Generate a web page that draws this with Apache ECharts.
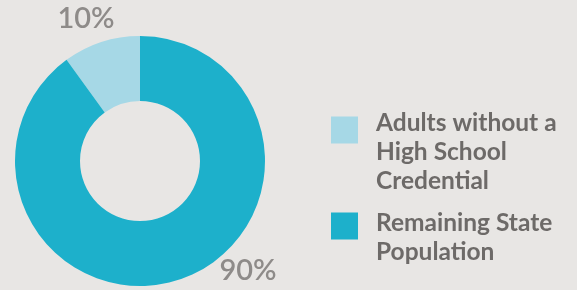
<!DOCTYPE html>
<html>
<head>
<meta charset="utf-8">
<script src="https://cdn.jsdelivr.net/npm/echarts@6/dist/echarts.min.js"></script>
<style>
  html, body { margin: 0; padding: 0; background: #e8e6e4; }
  #chart { width: 577px; height: 290px; }
</style>
</head>
<body>
<div id="chart"></div>
<script>
// data
var categories = ['Adults without a\nHigh School\nCredential', 'Remaining State\nPopulation'];
var shares = [10, 90];
var colors = ['#a6d8e6', '#1db0cb'];

var chartDom = document.getElementById('chart');
var myChart = echarts.init(chartDom);
var option;

var pieData = categories.map(function (name, i) {
  return { name: name, value: shares[i], itemStyle: { color: colors[i] } };
});

option = {
  backgroundColor: '#e8e6e4',
  animation: false,
  legend: {
    orient: 'vertical',
    left: 331,
    top: 86,
    padding: 0,
    itemWidth: 27,
    itemHeight: 27,
    itemGap: 3,
    icon: 'rect',
    selectedMode: false,
    formatter: function (name) {
      // blank first line pushes the text block down so it starts at the icon top
      var idx = categories.indexOf(name);
      var lines = name.split('\n').map(function (l) { return '{t|' + l + '}'; });
      return '{g' + idx + '| }\n' + lines.join('\n');
    },
    textStyle: {
      padding: [0, 0, 0, 13],
      rich: {
        t: {
          color: '#6d6a68',
          fontFamily: 'Lato',
          fontWeight: 'bold',
          fontSize: 24.5,
          lineHeight: 29
        },
        g0: { fontSize: 1, lineHeight: 44 },
        g1: { fontSize: 1, lineHeight: 23 }
      }
    },
    data: categories
  },
  series: [{
    type: 'pie',
    center: [140, 161],
    radius: [60, 125],
    startAngle: 90,
    clockwise: false,
    silent: true,
    label: {
      show: true,
      position: 'outside',
      overflow: 'none',
      formatter: '{d}%',
      color: '#8e8b89',
      fontFamily: 'Lato',
      fontWeight: 600,
      fontSize: 29
    },
    labelLine: { show: false },
    labelLayout: function (params) {
      // place the two percentages like in the source
      if (params.dataIndex === 0) {
        return { x: 86, y: 19, align: 'center', verticalAlign: 'middle' };
      }
      return { x: 248, y: 271, align: 'center', verticalAlign: 'middle' };
    },
    data: pieData
  }]
};

option && myChart.setOption(option);
</script>
</body>
</html>
